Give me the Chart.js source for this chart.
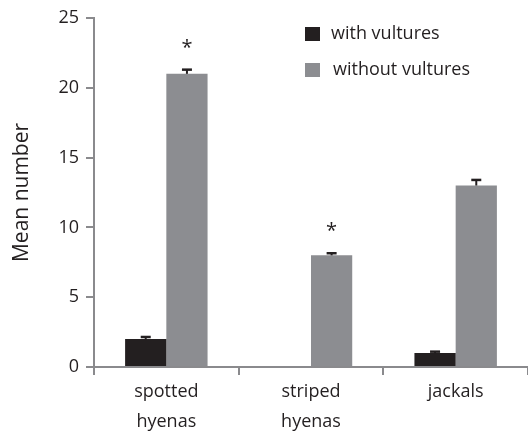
<!DOCTYPE html>
<html>
<head>
<meta charset="utf-8">
<script src="https://cdn.jsdelivr.net/npm/chart.js@4/dist/chart.umd.min.js"></script>
<style>
  html, body { margin: 0; padding: 0; background: #ffffff; }
  #wrap { width: 528px; height: 433px; position: relative; overflow: hidden; }
</style>
</head>
<body>
<div id="wrap"><canvas id="c"></canvas></div>
<script>
// ---- data ----
const categories = [['spotted', 'hyenas'], ['striped', 'hyenas'], 'jackals'];
const seriesNames = ['with vultures', 'without vultures'];
const withVultures = [2, 0, 1];
const withoutVultures = [21, 8, 13];
const withVulturesErr = [0.15, null, 0.1];
const withoutVulturesErr = [0.3, 0.15, 0.4];
const significant = [false, false, false];
const significantWithout = [true, true, false];
const yTicks = [0, 5, 10, 15, 20, 25];

const FONT = '"Open Sans", "Liberation Sans", sans-serif';
const TEXT = '#231f20';
const AXIS = '#8a8a8d';
const BLACK = '#231f20';
const GRAY = '#8c8d91';

const errors = [withVulturesErr, withoutVulturesErr];
const stars = [significant, significantWithout];

const errorBarPlugin = {
  id: 'errorBars',
  afterDatasetsDraw(chart) {
    const ctx = chart.ctx;
    const y = chart.scales.y;
    ctx.save();
    chart.data.datasets.forEach((ds, i) => {
      const meta = chart.getDatasetMeta(i);
      meta.data.forEach((bar, j) => {
        const v = ds.data[j];
        const e = errors[i][j];
        if (e == null || !v) return;
        const top = y.getPixelForValue(v + e);
        ctx.strokeStyle = BLACK;
        ctx.lineWidth = 2;
        ctx.beginPath();
        ctx.moveTo(bar.x, bar.y);
        ctx.lineTo(bar.x, top);
        ctx.stroke();
        ctx.lineWidth = 2.5;
        ctx.beginPath();
        ctx.moveTo(bar.x - 5, top);
        ctx.lineTo(bar.x + 5, top);
        ctx.stroke();
        if (stars[i][j]) {
          ctx.fillStyle = TEXT;
          ctx.font = '20px ' + FONT;
          ctx.textAlign = 'center';
          ctx.textBaseline = 'alphabetic';
          ctx.fillText('*', bar.x, top - 16);
        }
      });
    });
    ctx.restore();
  }
};

const legendPlugin = {
  id: 'customLegend',
  afterDraw(chart) {
    const ctx = chart.ctx;
    ctx.save();
    const rows = [27, 63];
    chart.data.datasets.forEach((ds, i) => {
      const ry = rows[i];
      ctx.fillStyle = ds.backgroundColor;
      ctx.fillRect(305, ry, 15, 14);
      ctx.fillStyle = TEXT;
      ctx.font = '18px ' + FONT;
      ctx.textAlign = 'left';
      ctx.textBaseline = 'middle';
      ctx.fillText(ds.label, 331 + i * 2, ry + 7);
    });
    ctx.restore();
  }
};

new Chart(document.getElementById('c'), {
  type: 'bar',
  data: {
    labels: categories,
    datasets: [
      { label: seriesNames[0], data: withVultures, backgroundColor: BLACK, borderWidth: 0 },
      { label: seriesNames[1], data: withoutVultures, backgroundColor: GRAY, borderWidth: 0 }
    ]
  },
  options: {
    responsive: true,
    maintainAspectRatio: false,
    animation: false,
    devicePixelRatio: 1,
    layout: { padding: { top: 18, left: 0, right: -4, bottom: 0 } },
    categoryPercentage: 0.57,
    barPercentage: 1.0,
    plugins: {
      legend: { display: false },
      tooltip: { enabled: false }
    },
    scales: {
      x: {
        offset: true,
        grid: { display: true, offset: true, drawOnChartArea: false, drawTicks: true, tickLength: 8, color: AXIS, lineWidth: 2 },
        border: { display: true, color: AXIS, width: 2 },
        ticks: { color: TEXT, font: { family: FONT, size: 18, lineHeight: 1.65 }, padding: 2, maxRotation: 0, autoSkip: false },
        afterFit(scale) { scale.height = 66; }
      },
      y: {
        min: 0,
        max: 25,
        afterBuildTicks(scale) { scale.ticks = yTicks.map(v => ({ value: v })); },
        grid: { display: true, drawOnChartArea: false, drawTicks: true, tickLength: 8, color: AXIS, lineWidth: 2 },
        border: { display: true, color: AXIS, width: 2 },
        ticks: { color: TEXT, font: { family: FONT, size: 18 }, padding: 7 },
        title: { display: true, text: 'Mean number', color: TEXT, font: { family: FONT, size: 21 }, padding: { top: 9, bottom: 0 } },
        afterFit(scale) { scale.width = 94; }
      }
    }
  },
  plugins: [errorBarPlugin, legendPlugin]
});
</script>
</body>
</html>
